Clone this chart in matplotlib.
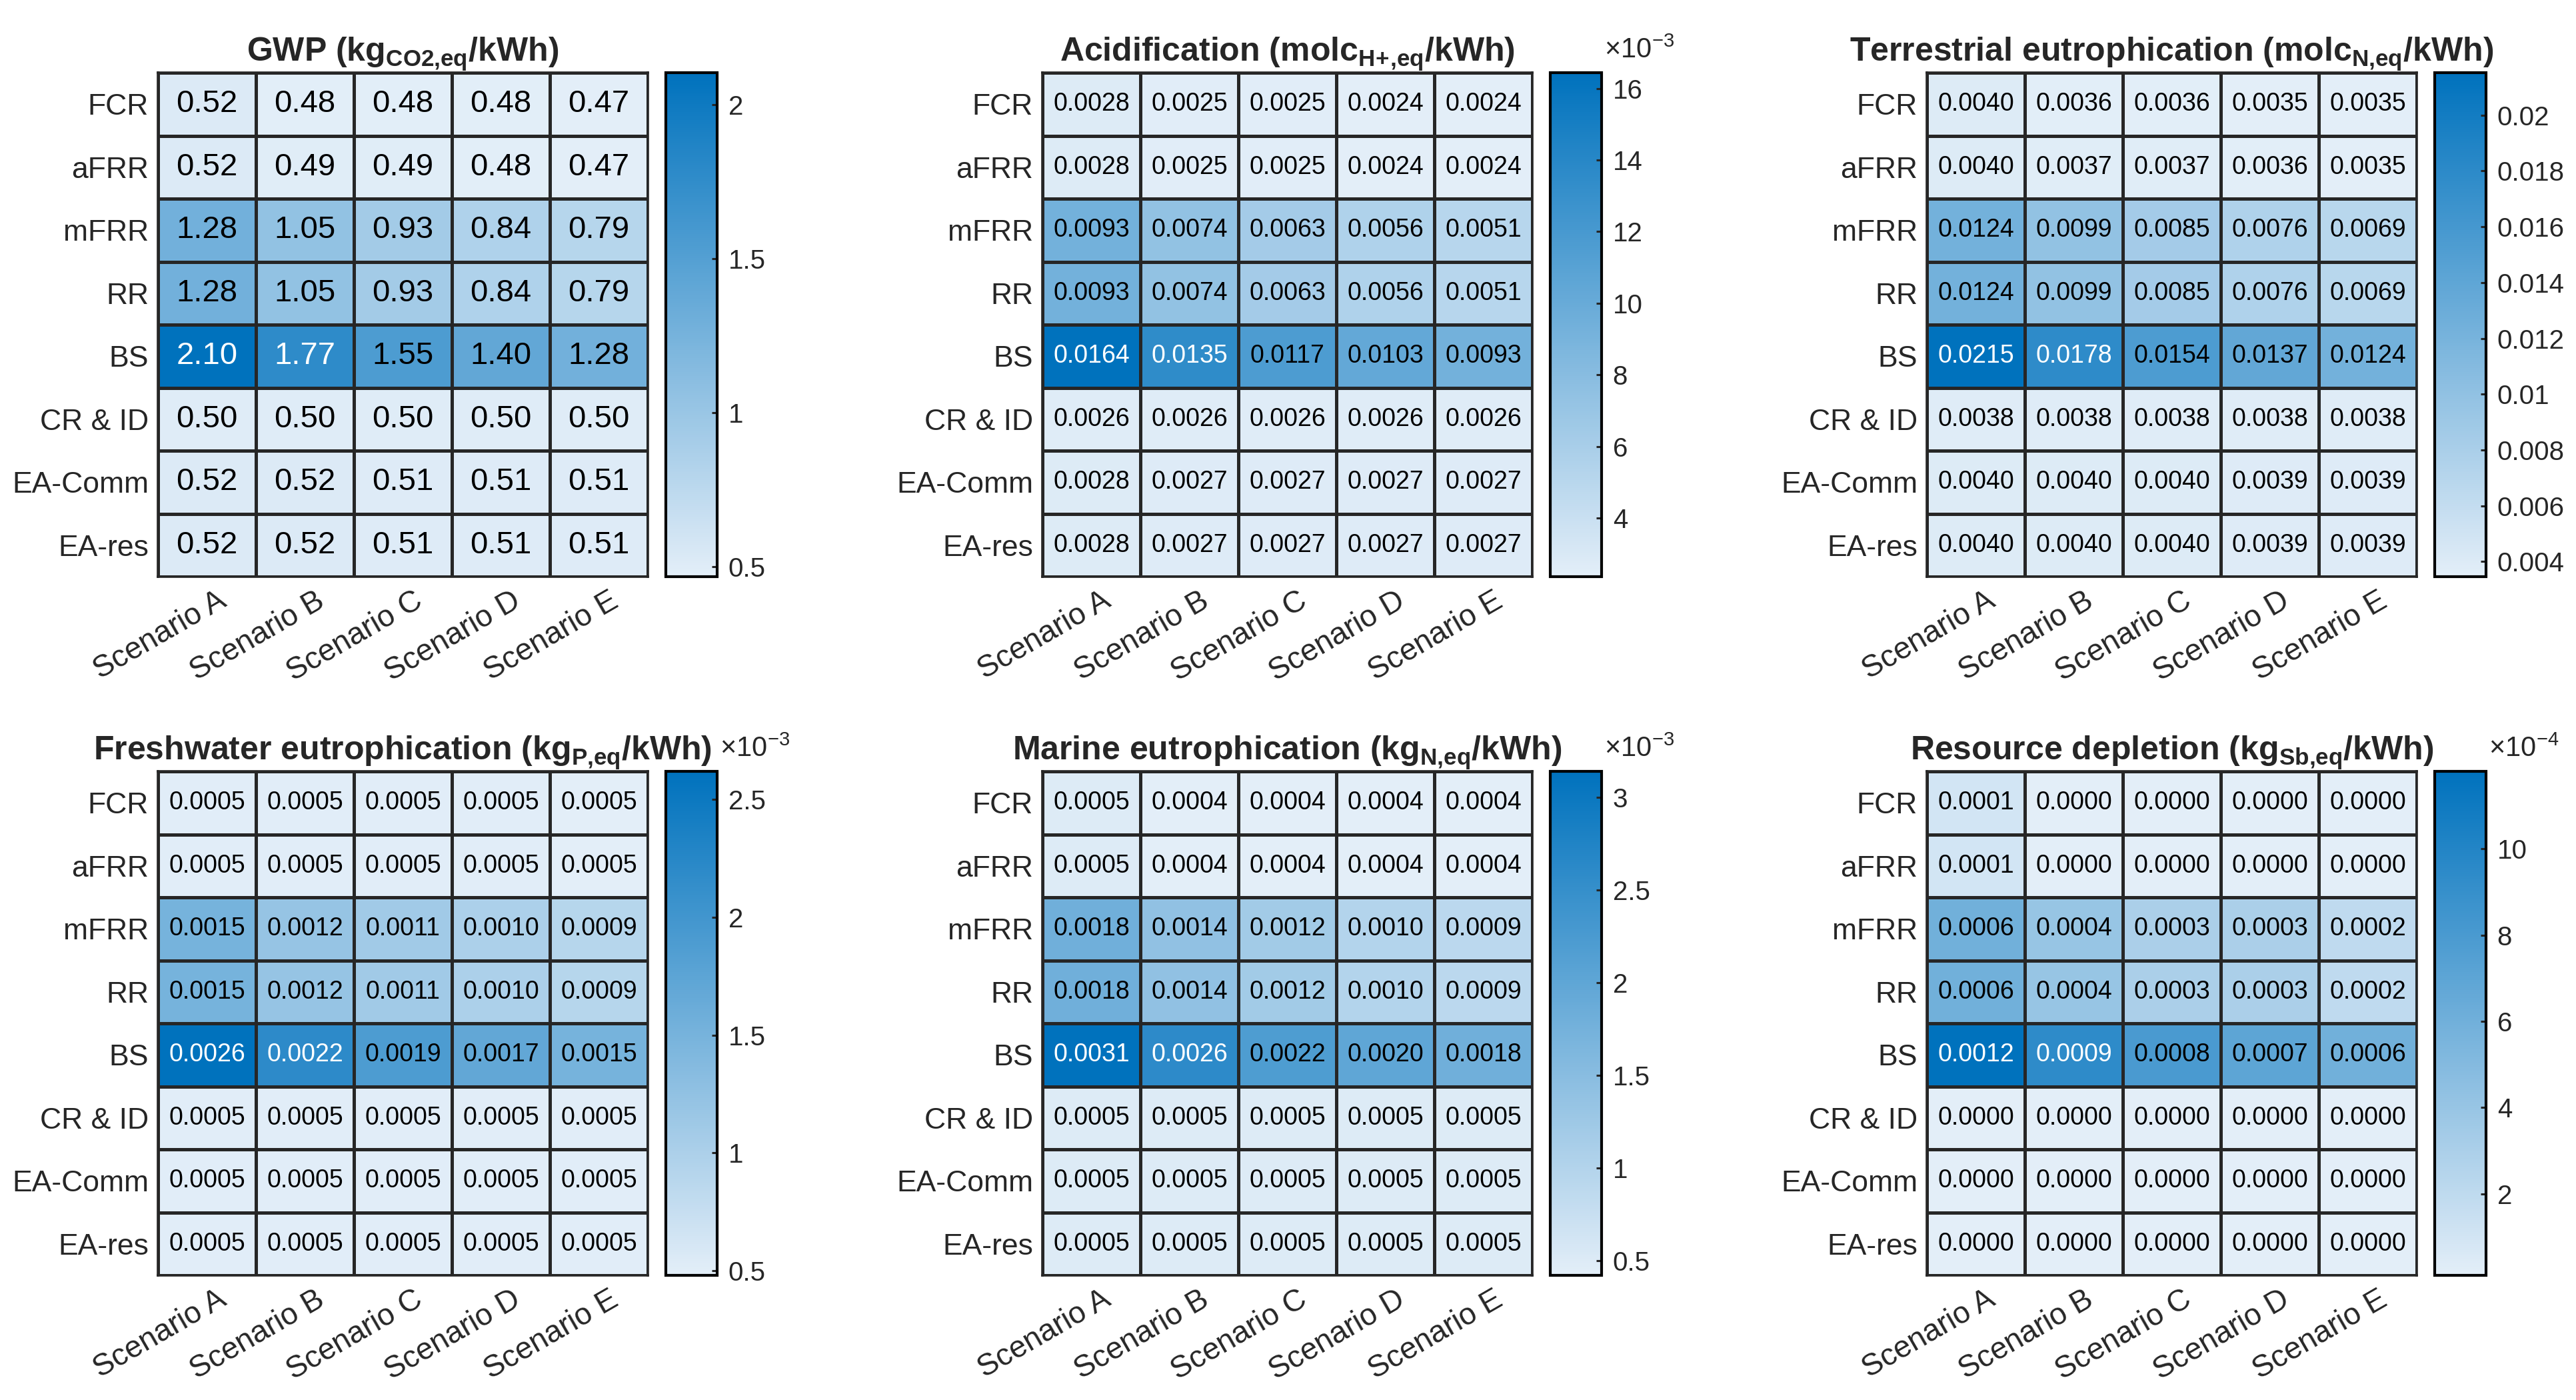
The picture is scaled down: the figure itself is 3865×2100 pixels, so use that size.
import matplotlib.pyplot as plt
import matplotlib.transforms as mtransforms
from matplotlib.colors import LinearSegmentedColormap, Normalize
from matplotlib.ticker import MultipleLocator, FuncFormatter
import numpy as np

plt.rcParams['font.family'] = ['Liberation Sans', 'DejaVu Sans']
plt.rcParams['mathtext.fontset'] = 'custom'
plt.rcParams['mathtext.rm'] = 'Liberation Sans'
plt.rcParams['mathtext.bf'] = 'Liberation Sans:bold'
plt.rcParams['mathtext.it'] = 'Liberation Sans:italic'

scenarios = ["Scenario A", "Scenario B", "Scenario C", "Scenario D", "Scenario E"]
services = ["FCR", "aFRR", "mFRR", "RR", "BS", "CR & ID", "EA-Comm", "EA-res"]

# values per service (rows) and scenario (columns)
gwp = [
    [0.52, 0.48, 0.48, 0.48, 0.47],
    [0.52, 0.49, 0.49, 0.48, 0.468],
    [1.28, 1.05, 0.93, 0.84, 0.79],
    [1.28, 1.05, 0.93, 0.84, 0.79],
    [2.104, 1.77, 1.55, 1.40, 1.28],
    [0.50, 0.50, 0.50, 0.50, 0.50],
    [0.52, 0.52, 0.51, 0.51, 0.51],
    [0.52, 0.52, 0.51, 0.51, 0.51],
]
acidification = [
    [0.0028, 0.0025, 0.0025, 0.00236, 0.00236],
    [0.0028, 0.0025, 0.0025, 0.0024, 0.0024],
    [0.0093, 0.0074, 0.0063, 0.0056, 0.0051],
    [0.0093, 0.0074, 0.0063, 0.0056, 0.0051],
    [0.01644, 0.0135, 0.0117, 0.0103, 0.0093],
    [0.0026, 0.0026, 0.0026, 0.0026, 0.0026],
    [0.0028, 0.0027, 0.0027, 0.0027, 0.0027],
    [0.0028, 0.0027, 0.0027, 0.0027, 0.0027],
]
terrestrial = [
    [0.0040, 0.0036, 0.0036, 0.00346, 0.00346],
    [0.0040, 0.0037, 0.0037, 0.0036, 0.00346],
    [0.0124, 0.0099, 0.0085, 0.0076, 0.0069],
    [0.0124, 0.0099, 0.0085, 0.0076, 0.0069],
    [0.02152, 0.0178, 0.0154, 0.0137, 0.0124],
    [0.0038, 0.0038, 0.0038, 0.0038, 0.0038],
    [0.0040, 0.0040, 0.0040, 0.0039, 0.0039],
    [0.0040, 0.0040, 0.0040, 0.0039, 0.0039],
]
freshwater = [
    [0.0005, 0.0005, 0.0005, 0.0005, 0.00048],
    [0.0005, 0.0005, 0.0005, 0.0005, 0.00048],
    [0.0015, 0.0012, 0.0011, 0.0010, 0.0009],
    [0.0015, 0.0012, 0.0011, 0.0010, 0.0009],
    [0.00262, 0.0022, 0.0019, 0.0017, 0.0015],
    [0.0005, 0.0005, 0.0005, 0.0005, 0.0005],
    [0.0005, 0.0005, 0.0005, 0.0005, 0.0005],
    [0.0005, 0.0005, 0.0005, 0.0005, 0.0005],
]
marine = [
    [0.0005, 0.00042, 0.00042, 0.00042, 0.00042],
    [0.0005, 0.00042, 0.00042, 0.00042, 0.00042],
    [0.0018, 0.0014, 0.0012, 0.0010, 0.0009],
    [0.0018, 0.0014, 0.0012, 0.0010, 0.0009],
    [0.00314, 0.0026, 0.0022, 0.0020, 0.0018],
    [0.0005, 0.0005, 0.0005, 0.0005, 0.0005],
    [0.0005, 0.0005, 0.0005, 0.0005, 0.0005],
    [0.0005, 0.0005, 0.0005, 0.0005, 0.0005],
]
resource = [
    [0.00010, 0.000011, 0.000011, 0.000011, 0.000011],
    [0.00010, 0.000011, 0.000011, 0.000011, 0.000011],
    [0.0006, 0.0004, 0.0003, 0.0003, 0.0002],
    [0.0006, 0.0004, 0.0003, 0.0003, 0.0002],
    [0.00118, 0.00094, 0.0008, 0.0007, 0.0006],
    [0.000011, 0.000011, 0.000011, 0.000011, 0.000011],
    [0.000011, 0.000011, 0.000011, 0.000011, 0.000011],
    [0.000011, 0.000011, 0.000011, 0.000011, 0.000011],
]

titles = [
    r"GWP (kg$_{\mathbf{CO2{,}eq}}$/kWh)",
    r"Acidification (molc$_{\mathbf{H\!+\!{,}eq}}$/kWh)",
    r"Terrestrial eutrophication (molc$_{\mathbf{N{,}eq}}$/kWh)",
    r"Freshwater eutrophication (kg$_{\mathbf{P{,}eq}}$/kWh)",
    r"Marine eutrophication (kg$_{\mathbf{N{,}eq}}$/kWh)",
    r"Resource depletion (kg$_{\mathbf{Sb{,}eq}}$/kWh)",
]
# (data, colorbar exponent, colorbar tick step in scaled units, cell format)
panels = [
    (gwp, 0, 0.5, "%.2f"),
    (acidification, -3, 2, "%.4f"),
    (terrestrial, 0, 0.002, "%.4f"),
    (freshwater, -3, 0.5, "%.4f"),
    (marine, -3, 0.5, "%.4f"),
    (resource, -4, 2, "%.4f"),
]

cmap = LinearSegmentedColormap.from_list("blues", ["#e3eef8", "#0072bd"])
grid_col = "#262626"

W, H = 3866, 2100
fig = plt.figure(figsize=(W / 200, H / 200), dpi=200)

lefts = [237, 1564, 2891]
tops = [109, 1157]
hm_w, hm_h = 735, 756

for i, ((data, expo, step, fmt), title) in enumerate(zip(panels, titles)):
    r, c = divmod(i, 3)
    x0 = lefts[c]
    y0 = tops[r]
    ax = fig.add_axes([x0 / W, 1 - (y0 + hm_h) / H, hm_w / W, hm_h / H])
    cax = fig.add_axes([(x0 + 762) / W, 1 - (y0 + hm_h) / H, 77 / W, hm_h / H])

    arr = np.array(data)
    norm = Normalize(vmin=arr.min(), vmax=arr.max())
    mesh = ax.pcolormesh(arr, cmap=cmap, norm=norm, edgecolors=grid_col, linewidth=1.1)
    ax.set_xlim(0, arr.shape[1])
    ax.set_ylim(arr.shape[0], 0)
    for sp in ax.spines.values():
        sp.set_color(grid_col)
        sp.set_linewidth(1.3)

    cell_fs = 17 if fmt == "%.2f" else 13.5
    for rr in range(arr.shape[0]):
        for cc in range(arr.shape[1]):
            v = arr[rr, cc]
            col = "white" if norm(v) > 0.72 else "black"
            ax.text(cc + 0.5, rr + 0.5, fmt % v, ha="center", va="center",
                    fontsize=cell_fs, color=col)

    ax.set_yticks(np.arange(len(services)) + 0.5)
    ax.set_yticklabels(services, fontsize=16, color=grid_col)
    ax.set_xticks(np.arange(len(scenarios)) + 0.5)
    ax.set_xticklabels(scenarios, fontsize=16.5, color=grid_col, rotation=30,
                       ha="right", va="top", rotation_mode="anchor")
    ax.tick_params(axis="both", length=0)
    ax.tick_params(axis="y", pad=5)
    ax.tick_params(axis="x", pad=5)
    shift = mtransforms.ScaledTranslation(15 / 200, 0, fig.dpi_scale_trans)
    for lab in ax.get_xticklabels():
        lab.set_transform(lab.get_transform() + shift)
    ax.set_title(title, fontsize=18, fontweight="bold", color=grid_col, pad=3)

    cb = fig.colorbar(mesh, cax=cax)
    cb.outline.set_linewidth(1.5)
    cb.outline.set_edgecolor("black")
    scale = 10.0 ** expo
    cb.locator = MultipleLocator(step * scale)
    cb.formatter = FuncFormatter(lambda v, p, s=scale: "%g" % round(v / s, 6))
    cb.update_ticks()
    cax.tick_params(direction="in", length=3, width=1.1, color=grid_col,
                    labelsize=14.5, labelcolor=grid_col, pad=6)
    if expo != 0:
        off = mtransforms.ScaledTranslation(4 / 200, 22 / 200, fig.dpi_scale_trans)
        cax.text(1, 1, r"$\times$10$^{%d}$" % expo, transform=cax.transAxes + off,
                 ha="left", va="baseline", fontsize=15, color=grid_col)

fig.savefig("out.png", dpi=200)
